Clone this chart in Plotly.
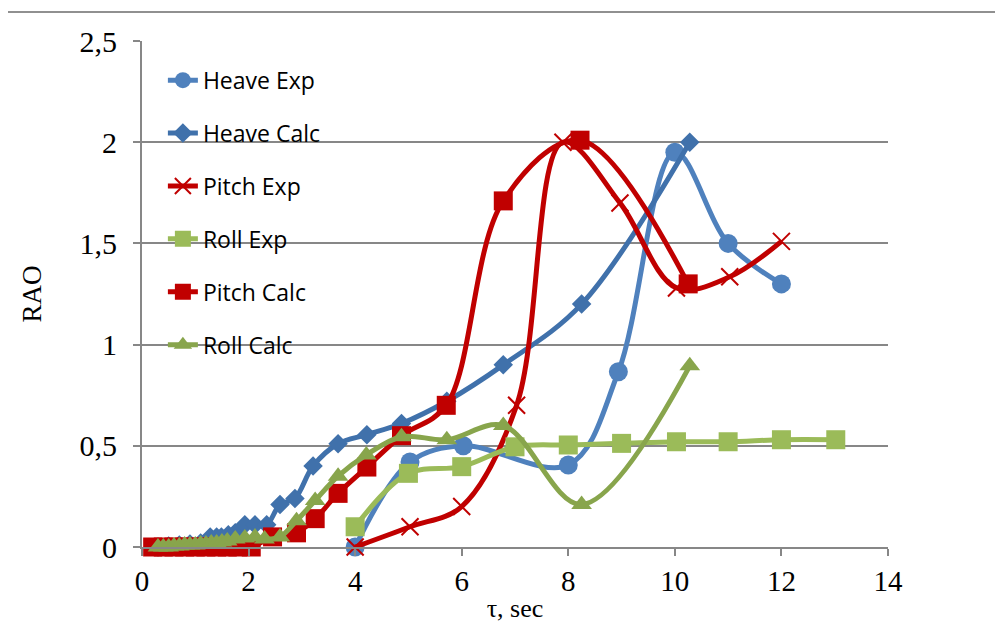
import plotly.graph_objects as go

# ---------------- data ----------------
heave_exp_x = [4.0, 5.03, 6.03, 8.0, 8.94, 10.0, 11.0, 12.0]
heave_exp_y = [0.0, 0.42, 0.50, 0.405, 0.866, 1.95, 1.50, 1.30]

heave_calc_x = [0.3, 0.5, 0.7, 0.9, 1.1, 1.28, 1.4, 1.49, 1.62, 1.75, 1.93, 2.12, 2.34,
                2.59, 2.87, 3.21, 3.68, 4.22, 4.87, 5.72, 6.78, 8.25, 10.28]
heave_calc_y = [0.0, 0.005, 0.01, 0.015, 0.02, 0.05, 0.05, 0.05, 0.06, 0.07, 0.11, 0.11, 0.11,
                0.21, 0.24, 0.40, 0.51, 0.555, 0.61, 0.72, 0.90, 1.20, 2.00]

pitch_exp_x = [4.0, 5.03, 6.0, 7.03, 7.9, 8.97, 10.03, 11.03, 12.0]
pitch_exp_y = [0.0, 0.10, 0.20, 0.70, 2.00, 1.70, 1.28, 1.335, 1.51]

roll_exp_x = [4.0, 5.0, 6.0, 7.0, 8.0, 9.0, 10.03, 11.0, 12.0, 13.02]
roll_exp_y = [0.10, 0.364, 0.397, 0.495, 0.504, 0.512, 0.52, 0.52, 0.53, 0.53]

pitch_calc_x = [0.2, 0.4, 0.6, 0.8, 1.0, 1.2, 1.4, 1.6, 1.8, 2.05, 2.45, 2.9, 3.25, 3.68,
                4.22, 4.87, 5.71, 6.78, 8.22, 10.25]
pitch_calc_y = [0.0, 0.0, 0.0, 0.0, 0.0, 0.0, 0.0, 0.0, 0.0, 0.0, 0.05, 0.07, 0.14, 0.265,
                0.395, 0.55, 0.70, 1.71, 2.01, 1.30]

roll_calc_x = [0.3, 0.4, 0.5, 0.6, 0.7, 0.8, 0.9, 1.0, 1.1, 1.2, 1.3, 1.4, 1.5, 1.6, 1.75,
               1.93, 2.12, 2.3, 2.59, 2.9, 3.25, 3.68, 4.21, 4.87, 5.72, 6.78, 8.25, 10.28]
roll_calc_y = [0.0, 0.0, 0.0, 0.005, 0.005, 0.01, 0.01, 0.01, 0.015, 0.015, 0.02, 0.02, 0.025,
               0.03, 0.04, 0.045, 0.05, 0.04, 0.05, 0.13, 0.23, 0.35, 0.455, 0.545, 0.53, 0.60,
               0.21, 0.895]

x_ticks = [0, 2, 4, 6, 8, 10, 12, 14]
x_tick_labels = ["0", "2", "4", "6", "8", "10", "12", "14"]
y_ticks = [0, 0.5, 1, 1.5, 2, 2.5]
y_tick_labels = ["0", "0,5", "1", "1,5", "2", "2,5"]

# ---------------- figure ----------------
fig = go.Figure()

def add(name, x, y, color, symbol, size, mline=None):
    marker = dict(color=color, symbol=symbol, size=size)
    if mline is not None:
        marker["line"] = dict(color=color, width=mline)
    fig.add_trace(go.Scatter(
        x=x, y=y, name=name, mode="lines+markers",
        line=dict(color=color, width=5, shape="spline", smoothing=1.0),
        marker=marker, cliponaxis=False, legendgroup=name,
    ))

add("Heave Exp", heave_exp_x, heave_exp_y, "#4F81BD", "circle", 19)
add("Heave Calc", heave_calc_x, heave_calc_y, "#4071AB", "diamond", 15)
add("Pitch Exp", pitch_exp_x, pitch_exp_y, "#C00000", "x-thin", 17, mline=2)
add("Roll Exp", roll_exp_x, roll_exp_y, "#9BBB59", "square", 19)
add("Pitch Calc", pitch_calc_x, pitch_calc_y, "#C00000", "square", 19)
add("Roll Calc", roll_calc_x, roll_calc_y, "#88A54C", "triangle-up", 18)

grid = "#878787"
fig.update_layout(
    width=1003, height=644,
    margin=dict(l=134, r=123, t=33, b=105),
    paper_bgcolor="white", plot_bgcolor="white",
    font=dict(family="Liberation Serif", size=29, color="black"),
    legend=dict(x=0.028, y=0.965, xanchor="left", yanchor="top",
                bgcolor="rgba(0,0,0,0)", font=dict(family="Open Sans", size=23, color="black"),
                tracegroupgap=20),
    showlegend=True,
    xaxis=dict(range=[0, 14], tickvals=x_ticks, ticktext=x_tick_labels,
               showgrid=False, zeroline=False, showline=True, linecolor=grid, linewidth=2,
               ticks="outside", ticklen=7, tickwidth=2, tickcolor=grid,
               tickfont=dict(size=29),
               title=dict(text="τ, sec", standoff=3, font=dict(size=26))),
    yaxis=dict(range=[0, 2.5], tickvals=y_ticks, ticktext=y_tick_labels,
               showgrid=True, gridcolor=grid, gridwidth=2, zeroline=False,
               showline=True, linecolor=grid, linewidth=2,
               ticks="outside", ticklen=7, tickwidth=2, tickcolor=grid,
               tickfont=dict(size=30), ticklabelstandoff=10,
               title=dict(text="RAO", standoff=30, font=dict(size=27))),
)

# outer chart frame (partly cropped in the original)
fig.add_shape(type="line", xref="paper", yref="paper", x0=-0.1823, x1=-0.1823,
              y0=1.0573, y1=-0.25, line=dict(color="#909090", width=2))
fig.add_shape(type="line", xref="paper", yref="paper", x0=-0.1823, x1=1.2,
              y0=1.0573, y1=1.0573, line=dict(color="#909090", width=2))

fig.write_html("out.html")
